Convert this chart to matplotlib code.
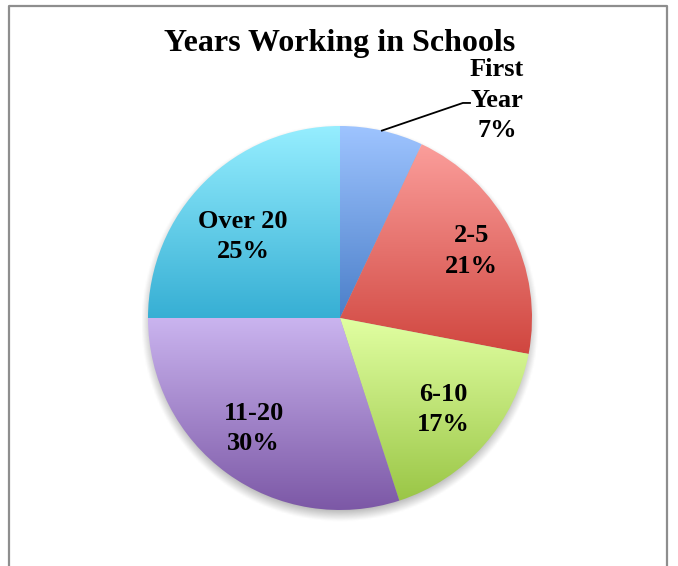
import numpy as np
import matplotlib.pyplot as plt
from matplotlib.colors import LinearSegmentedColormap
from matplotlib.lines import Line2D

plt.rcParams['font.family'] = ['Liberation Serif', 'DejaVu Serif']

# years-of-service groups, clockwise from 12 o'clock
groups = ['First\nYear', '2-5', '6-10', '11-20', 'Over 20']
shares = [7, 21, 17, 30, 25]

# gradient end colours per slice (top -> bottom)
top_colors = ['#9EC4FF', '#FB9E9B', '#E1FFA2', '#CAB4EF', '#96EEFF']
bottom_colors = ['#4B7FC9', '#D0463F', '#9AC646', '#7C58A6', '#36AFD4']

# label placement (fraction of radius, angle offset in degrees)
label_r = [None, 0.77, 0.72, 0.73, 0.66]
label_dang = [0, 0, 0, -2, 5]

W, H = 678, 566
cx, cy, R = 340, H - 318, 192

fig = plt.figure(figsize=(W / 100, H / 100), dpi=100)
ax = fig.add_axes([0, 0, 1, 1])

# soft drop shadow under the pie
xs = np.linspace(-cx / R, (W - cx) / R, 400)
ys = np.linspace(-cy / R, (H - cy) / R, 340)
gx, gy = np.meshgrid(xs, ys)
dist = np.hypot(gx, gy + 5 / R)
soft = 7 / R
shade = np.clip((1.0 + soft - dist) / (2 * soft), 0, 1)
shadow = np.zeros(shade.shape + (4,))
shadow[..., :3] = 0.35
shadow[..., 3] = 0.5 * shade
ax.imshow(shadow, extent=(xs[0], xs[-1], ys[0], ys[-1]), origin='lower',
          interpolation='bilinear', zorder=0)

wedges, _ = ax.pie(shares, startangle=90, counterclock=False, radius=1,
                   wedgeprops=dict(linewidth=0))

grad = np.linspace(0, 1, 256).reshape(-1, 1)
for i, w in enumerate(wedges):
    w.set_facecolor('none')
    ext = w.get_path().get_extents()
    cmap = LinearSegmentedColormap.from_list(f'g{i}', [top_colors[i], bottom_colors[i]])
    im = ax.imshow(grad, extent=(ext.x0, ext.x1, ext.y0, ext.y1), origin='upper',
                   cmap=cmap, aspect='auto', interpolation='bilinear', zorder=1)
    im.set_clip_path(w)

    mid = np.deg2rad((w.theta1 + w.theta2) / 2 + label_dang[i])
    text = f'{groups[i]}\n{shares[i]}%'
    if label_r[i] is None:
        # small slice: label outside with a leader line
        ex, ey = np.cos(mid), np.sin(mid)
        ax.plot([ex, 0.64, 0.677], [ey, 1.12, 1.12], color='black', lw=1.3, zorder=3)
        ax.text(0.818, 1.135, text, ha='center', va='center', fontsize=19,
                fontweight='bold', linespacing=1.42, zorder=3)
    else:
        ax.text(label_r[i] * np.cos(mid), label_r[i] * np.sin(mid), text,
                ha='center', va='center', fontsize=19, fontweight='bold',
                linespacing=1.42, zorder=3)

ax.set_xlim(-cx / R, (W - cx) / R)
ax.set_ylim(-cy / R, (H - cy) / R)
ax.axis('off')

fig.text(340 / W, 1 - 44 / H, 'Years Working in Schools', ha='center', va='center',
         fontsize=23, fontweight='bold')

# chart-area frame
fig.add_artist(Line2D([8.5 / W, 8.5 / W, 667 / W, 667 / W],
                      [0, 1 - 5.5 / H, 1 - 5.5 / H, 0], color='#8e8e8e', lw=1.6))

fig.savefig('out.png', dpi=100)
